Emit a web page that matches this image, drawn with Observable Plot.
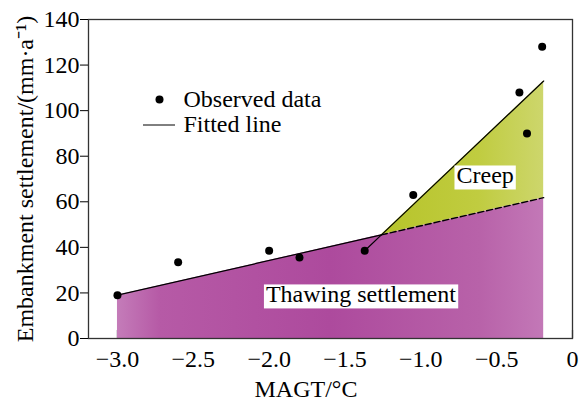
<!DOCTYPE html>
<html>
<head>
<meta charset="utf-8">
<script src="https://cdn.jsdelivr.net/npm/d3@7"></script>
<script src="https://cdn.jsdelivr.net/npm/@observablehq/plot@0.6"></script>
<style>
  html, body { margin: 0; padding: 0; background: #fff; }
  #chart { width: 579px; height: 401px; }
  #chart svg, #chart svg text { font-family: "Liberation Serif", "Times New Roman", serif !important; font-size: 24px; }
</style>
</head>
<body>
<div id="chart"></div>
<script>
// Observed data
const obsX = [-3.0, -2.6, -2.0, -1.8, -1.37, -1.05, -0.35, -0.3, -0.2];
const obsY = [19, 33.5, 38.5, 35.5, 38.5, 63, 108, 90, 128];

// Fitted line for thawing settlement (start, intersection with creep line, end)
const thawX = [-3.0, -1.26, -0.19];
const thawY = [19, 45.5, 61.8];

// Fitted line for creep (start, intersection, end)
const creepX = [-1.37, -1.26, -0.19];
const creepY = [38.5, 45.5, 113];

// Labels inside the plot
const regionText = ["Creep", "Thawing settlement"];
const regionX = [-0.576, -1.395];
const regionY = [71.4, 19.2];

// Axes
const xTicks = [-3.0, -2.5, -2.0, -1.5, -1.0, -0.5, 0];
const xTickLabels = ["\u22123.0", "\u22122.5", "\u22122.0", "\u22121.5", "\u22121.0", "\u22120.5", "0"];
const yTicks = [0, 20, 40, 60, 80, 100, 120, 140];
const xTitle = "MAGT/\u00b0C";
const yTitle = "Embankment settlement/(mm\u00b7a\u207b\u00b9)";
const legendLabels = ["Observed data", "Fitted line"];

const thaw = thawX.map((x, i) => ({x, y: thawY[i]}));
const creep = creepX.map((x, i) => ({x, y: creepY[i]}));
const creepArea = thawX.slice(1).map((x, i) => ({x, lo: thawY[i + 1], hi: creepY[i + 1]}));
const obs = obsX.map((x, i) => ({x, y: obsY[i]}));
const regions = regionText.map((t, i) => ({t, x: regionX[i], y: regionY[i]}));

const svg = Plot.plot({
  width: 579,
  height: 401,
  marginLeft: 88,
  marginRight: 7,
  marginTop: 19,
  marginBottom: 63,
  style: "font-family: 'Liberation Serif', serif; font-size: 24px; background: #fff; color: #000;",
  x: {domain: [-3.191, 0]},
  y: {domain: [0, 140]},
  marks: [
    Plot.tickX(xTicks, {x: d => d, insetTop: 311, stroke: "#000", strokeWidth: 1.2}),
    Plot.areaY(thaw, {x: "x", y: "y", fill: "url(#gThaw)"}),
    Plot.areaY(creepArea, {x: "x", y1: "lo", y2: "hi", fill: "url(#gCreep)"}),
    Plot.line(thaw.slice(0, 2), {x: "x", y: "y", stroke: "#000", strokeWidth: 1.2}),
    Plot.line(thaw.slice(1), {x: "x", y: "y", stroke: "#000", strokeWidth: 1.4, strokeDasharray: "6,3"}),
    Plot.line(creep, {x: "x", y: "y", stroke: "#000", strokeWidth: 1.2}),
    Plot.dot(obs, {x: "x", y: "y", r: 4, fill: "#000"}),
    Plot.text(regions, {x: "x", y: "y", text: "t", fill: "#000", lineAnchor: "middle"}),
    Plot.frame({stroke: "#333", strokeWidth: 1.3}),
    Plot.axisX({ticks: xTicks, tickSize: 0, tickPadding: 11, tickFormat: (d, i) => xTickLabels[i], label: null, fill: "#000"}),
    Plot.axisY({ticks: yTicks, tickSize: 8, tickPadding: 1, label: null, fill: "#000", stroke: "#000"}),
    Plot.text([xTitle], {frameAnchor: "bottom", dx: -24.5, dy: 51, lineAnchor: "middle", text: d => d, fill: "#000"}),
    Plot.text([yTitle], {frameAnchor: "left", rotate: -90, dx: -62.7, lineAnchor: "middle", textAnchor: "middle", text: d => d, fill: "#000"}),
    // legend
    Plot.dot([0], {frameAnchor: "top-left", dx: 71, dy: 80, r: 4, fill: "#000"}),
    Plot.ruleY([0], {y: d => d, dy: -213.5, insetLeft: 55, insetRight: 397, stroke: "#000", strokeWidth: 1}),
    Plot.text([legendLabels[0]], {frameAnchor: "top-left", dx: 95, dy: 80.3, textAnchor: "start", lineAnchor: "middle", text: d => d, fill: "#000"}),
    Plot.text([legendLabels[1]], {frameAnchor: "top-left", dx: 95, dy: 105.3, textAnchor: "start", lineAnchor: "middle", text: d => d, fill: "#000"})
  ]
});

document.getElementById("chart").append(svg);

const ns = "http://www.w3.org/2000/svg";
const defs = document.createElementNS(ns, "defs");
defs.innerHTML = `
  <linearGradient id="gThaw" x1="0" x2="1" y1="0" y2="0">
    <stop offset="0" stop-color="#c47cb9"/>
    <stop offset="0.1" stop-color="#b65aa6"/>
    <stop offset="0.5" stop-color="#ad4a9d"/>
    <stop offset="0.85" stop-color="#b862a9"/>
    <stop offset="1" stop-color="#c378b7"/>
  </linearGradient>
  <linearGradient id="gCreep" x1="0" x2="1" y1="0" y2="0">
    <stop offset="0" stop-color="#b7c42a"/>
    <stop offset="0.6" stop-color="#c0cc40"/>
    <stop offset="1" stop-color="#cdd66c"/>
  </linearGradient>`;
svg.insertBefore(defs, svg.firstChild);

// white boxes behind region labels
svg.querySelectorAll("text").forEach(t => {
  if (!regionText.includes(t.textContent)) return;
  const b = t.getBBox();
  const r = document.createElementNS(ns, "rect");
  r.setAttribute("x", b.x - 2);
  r.setAttribute("y", b.y + b.height / 2 - 10);
  r.setAttribute("width", b.width + 4);
  r.setAttribute("height", 24);
  r.setAttribute("fill", "#fff");
  const tr = t.getAttribute("transform");
  if (tr) r.setAttribute("transform", tr);
  t.parentNode.insertBefore(r, t);
});
</script>
</body>
</html>
